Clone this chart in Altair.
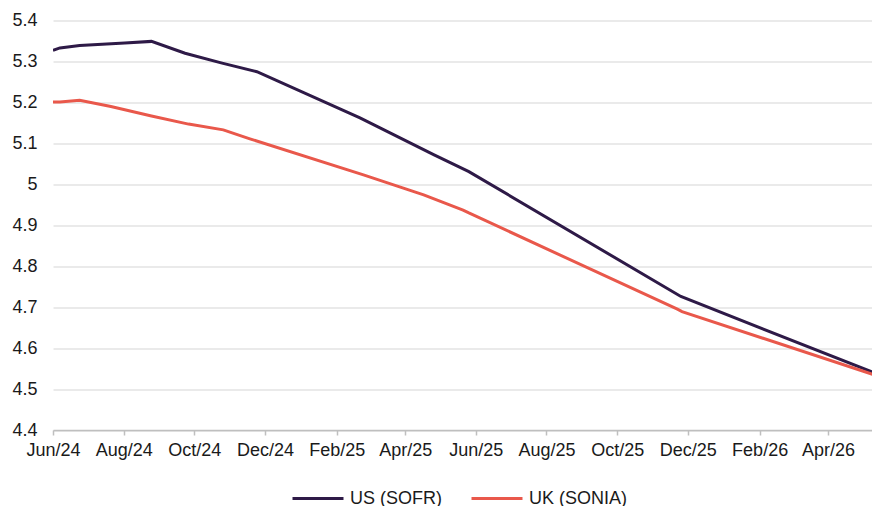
import altair as alt
import pandas as pd

# US (SOFR) forward curve
us_dates = ["2024-06-01", "2024-06-07", "2024-06-24", "2024-08-02", "2024-08-25",
            "2024-09-23", "2024-10-25", "2024-11-24", "2025-02-21", "2025-04-26",
            "2025-05-26", "2025-11-25", "2026-05-16"]
us_values = [5.327, 5.333, 5.339, 5.345, 5.349,
             5.320, 5.296, 5.275, 5.162, 5.072,
             5.031, 4.726, 4.534]

# UK (SONIA) forward curve
uk_dates = ["2024-06-01", "2024-06-07", "2024-06-24", "2024-07-21", "2024-08-25",
            "2024-09-26", "2024-10-26", "2024-11-18", "2025-02-24", "2025-04-17",
            "2025-05-21", "2025-05-26", "2025-11-22", "2025-11-26", "2026-05-16"]
uk_values = [5.201, 5.201, 5.205, 5.190, 5.167,
             5.147, 5.133, 5.111, 5.023, 4.974,
             4.937, 4.930, 4.695, 4.689, 4.530]

series_names = ["US (SOFR)", "UK (SONIA)"]
series_colors = ["#2e1a47", "#e9584b"]

x_ticks = [(2024, 6), (2024, 8), (2024, 10), (2024, 12), (2025, 2), (2025, 4),
           (2025, 6), (2025, 8), (2025, 10), (2025, 12), (2026, 2), (2026, 4)]
y_ticks = [4.4, 4.5, 4.6, 4.7, 4.8, 4.9, 5.0, 5.1, 5.2, 5.3, 5.4]

rows = []
for d, v in zip(us_dates, us_values):
    rows.append({"date": d + "T00:00:00Z", "value": v, "series": series_names[0], "order": 0})
for d, v in zip(uk_dates, uk_values):
    rows.append({"date": d + "T00:00:00Z", "value": v, "series": series_names[1], "order": 1})
df = pd.DataFrame(rows)

FONT = "Liberation Sans"

chart = alt.Chart(df).mark_line(strokeWidth=3, clip=True).encode(
    x=alt.X("date:T",
            scale=alt.Scale(type="utc",
                            domain=[alt.DateTime(year=2024, month=6, date=1, utc=True),
                                    alt.DateTime(year=2026, month=5, date=9, utc=True)]),
            axis=alt.Axis(title=None,
                          values=[alt.DateTime(year=y, month=m, date=1, utc=True) for y, m in x_ticks],
                          labelExpr="utcFormat(datum.value, '%b/%y')",
                          grid=False, domain=True, domainColor="#bfbfbf", domainWidth=1.5,
                          ticks=True, tickColor="#bfbfbf", tickSize=5, tickWidth=1.5,
                          labelFont=FONT, labelFontSize=18, labelColor="#1a1a1a",
                          labelPadding=6, labelOverlap=False, labelFlush=False)),
    y=alt.Y("value:Q",
            scale=alt.Scale(domain=[4.4, 5.4], zero=False, nice=False),
            axis=alt.Axis(title=None, values=y_ticks, format=".1~f",
                          grid=True, gridColor="#e3e3e3", gridWidth=1.5,
                          domain=False, ticks=False,
                          labelFont=FONT, labelFontSize=18, labelColor="#1a1a1a",
                          labelPadding=16)),
    color=alt.Color("series:N",
                    scale=alt.Scale(domain=series_names, range=series_colors),
                    legend=alt.Legend(title=None, orient="none", direction="horizontal",
                                      legendX=238, legendY=451, padding=0,
                                      symbolType="stroke", symbolSize=2600,
                                      symbolStrokeWidth=3, labelFont=FONT,
                                      labelFontSize=18, labelColor="#1a1a1a",
                                      columnPadding=23, labelOffset=5)),
    order=alt.Order("order:Q"),
).properties(
    width=819,
    height=409.5,
    padding={"left": 45, "top": 12.5, "right": 0, "bottom": 76},
    autosize=alt.AutoSizeParams(type="none"),
).configure_view(stroke=None)

chart.save("out.html", embed_options={"renderer": "svg", "actions": False})
